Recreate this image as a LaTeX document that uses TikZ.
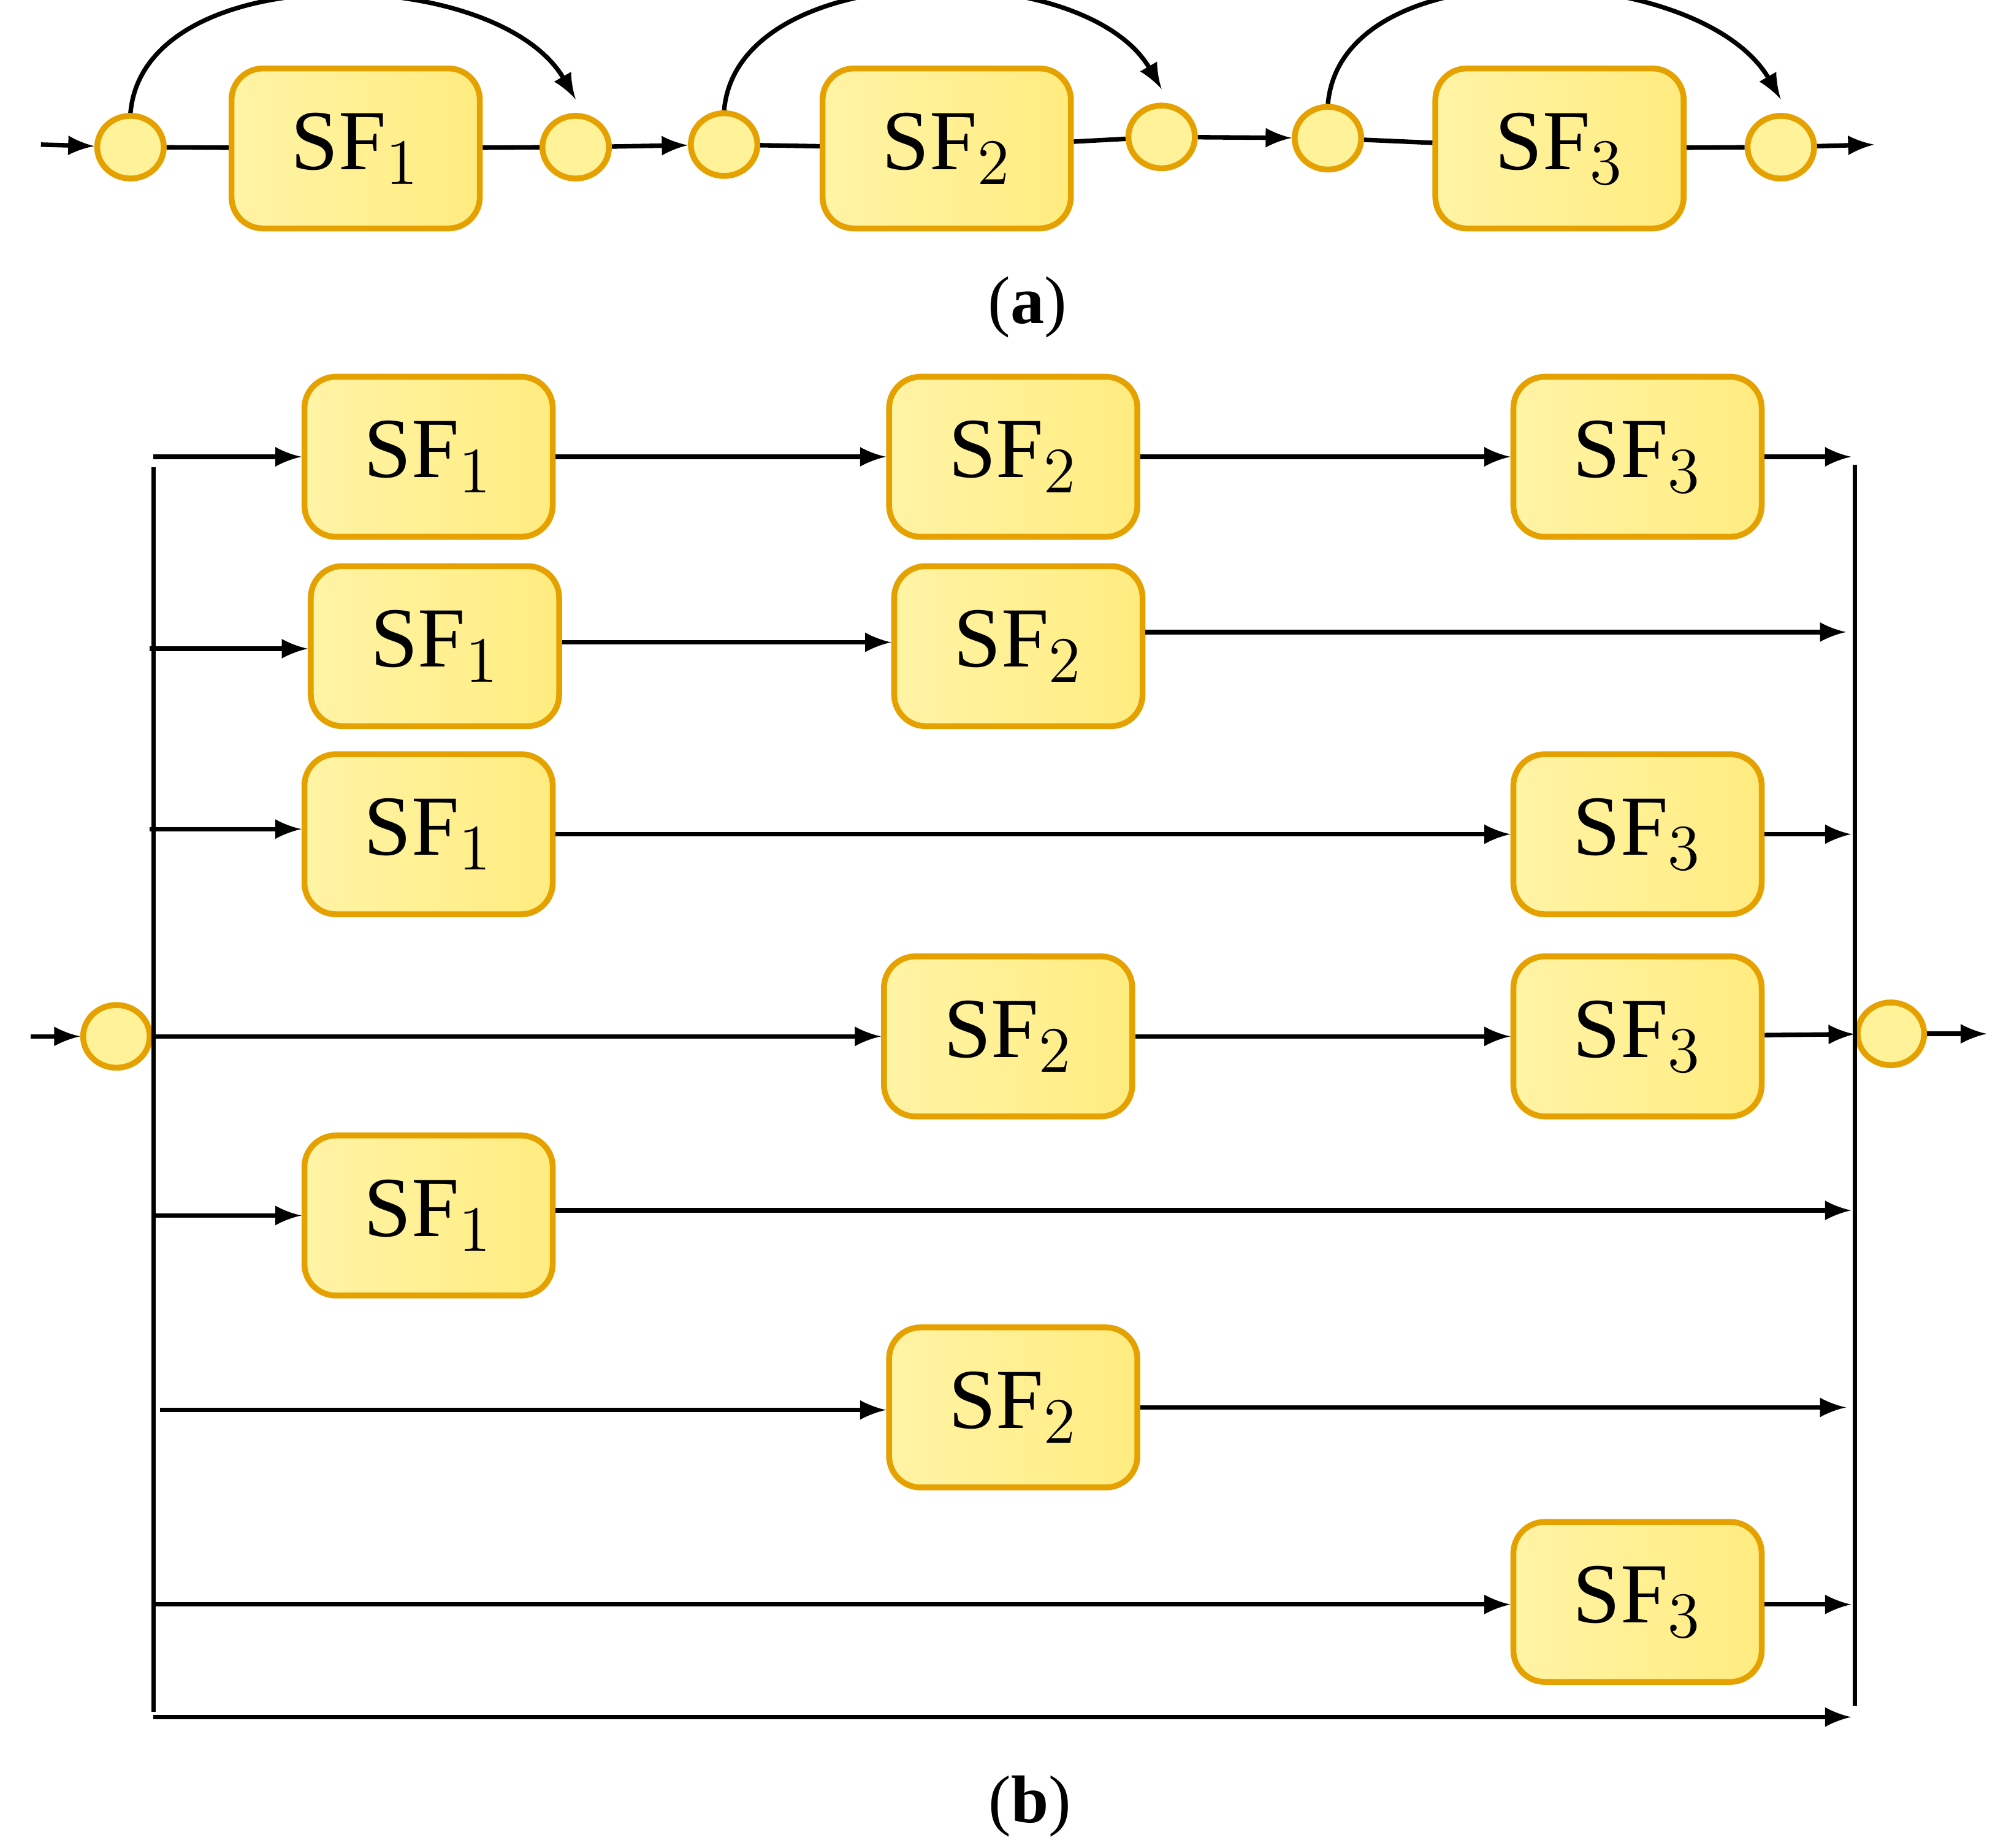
\documentclass[tikz,border=0pt]{standalone}
\usepackage{fontspec}
\setmainfont{Liberation Serif}
\usetikzlibrary{shapes.geometric}

\begin{document}
\begin{tikzpicture}[x=0.01cm,y=-0.01cm,line width=1pt,
  sf/.style={draw=orange!60!yellow!90!black,line width=1.3pt,rounded corners=7pt,
    left color=orange!25!yellow!35,right color=orange!30!yellow!50,
    minimum width=1.94cm,minimum height=1.25cm,font=\fontsize{19}{22}\selectfont},
  dot/.style={ellipse,draw=orange!60!yellow!90!black,line width=1.3pt,
    fill=orange!25!yellow!40,minimum width=0.52cm,minimum height=0.49cm,inner sep=0pt},
  flow/.style={-latex},
  sublabel/.style={font=\fontsize{15}{18}\selectfont}]
\useasboundingbox (0,0) rectangle (1568,1444);

% (a) series chain
\node[dot] (a1) at (102,115) {};
\node[sf] (asf1) at (278,116) {SF$_1$};
\node[dot] (a2) at (450,115) {};
\node[dot] (a3) at (566,113) {};
\node[sf] (asf2) at (740,116) {SF$_2$};
\node[dot] (a4) at (908,107) {};
\node[dot] (a5) at (1038,108) {};
\node[sf] (asf3) at (1219,116) {SF$_3$};
\node[dot] (a6) at (1392,115) {};
\coordinate (ain) at (32,113);
\coordinate (aout) at (1465,113);
\draw[flow] (ain) -- (a1);
\draw (a1) -- (asf1) (asf1) -- (a2);
\draw[flow] (a2) -- (a3);
\draw (a3) -- (asf2) (asf2) -- (a4);
\draw[flow] (a4) -- (a5);
\draw (a5) -- (asf3) (asf3) -- (a6);
\draw[flow] (a6) -- (aout);
\draw[flow] (a1.north) to[out=85,in=120,looseness=0.9] ([yshift=3pt]a2.north);
\draw[flow] (a3.north) to[out=85,in=120,looseness=0.9] ([yshift=3pt]a4.north);
\draw[flow] (a5.north) to[out=85,in=120,looseness=0.9] ([yshift=3pt]a6.north);
\node[sublabel] (capa) at (803,240) {(\textbf{a})};

% (b) parallel paths
\node[dot] (bin) at (91,810) {};
\node[dot] (bout) at (1478,808) {};
\coordinate (bsrc) at (24,810);
\coordinate (bdst) at (1553,808);
\draw[flow] (bsrc) -- (bin);
\draw[flow] (bout) -- (bdst);
\coordinate (lt) at (120,365);
\coordinate (lb) at (120,1338);
\coordinate (rt) at (1450,363);
\coordinate (rb) at (1450,1333);
\draw (lt) -- (lb);
\draw (rt) -- (rb);

% row 1
\node[sf] (p1a) at (335,357) {SF$_1$};
\node[sf] (p1b) at (792,357) {SF$_2$};
\node[sf] (p1c) at (1280,357) {SF$_3$};
\coordinate (l1) at (120,357);
\coordinate (r1) at (1447,357);
\draw[flow] (l1) -- (p1a);
\draw[flow] (p1a) -- (p1b);
\draw[flow] (p1b) -- (p1c);
\draw[flow] (p1c) -- (r1);
% row 2
\node[sf] (p2a) at (340,505) {SF$_1$};
\node[sf] (p2b) at (796,505) {SF$_2$};
\coordinate (l2) at (117,507);
\coordinate (r2) at (1443,494);
\draw[flow] (l2) -- (p2a.west|-l2);
\draw[flow] (p2a.east|-0,502) -- (p2b.west|-0,502);
\draw[flow] (p2b.east|-r2) -- (r2);
% row 3
\node[sf] (p3a) at (335,652) {SF$_1$};
\node[sf] (p3c) at (1280,652) {SF$_3$};
\coordinate (l3) at (117,648);
\coordinate (r3) at (1447,652);
\draw[flow] (l3) -- (p3a.west|-l3);
\draw[flow] (p3a) -- (p3c);
\draw[flow] (p3c) -- (r3);
% row 4
\node[sf] (p4b) at (788,810) {SF$_2$};
\node[sf] (p4c) at (1280,810) {SF$_3$};
\draw[flow] (bin) -- (p4b);
\draw[flow] (p4b) -- (p4c);
\draw[flow] (p4c) -- (bout);
% row 5
\node[sf] (p5a) at (335,950) {SF$_1$};
\coordinate (l5) at (120,950);
\coordinate (r5) at (1447,946);
\draw[flow] (l5) -- (p5a);
\draw[flow] (p5a.east|-r5) -- (r5);
% row 6
\node[sf] (p6b) at (792,1100) {SF$_2$};
\coordinate (l6) at (125,1102);
\coordinate (r6) at (1443,1100);
\draw[flow] (l6) -- (p6b.west|-l6);
\draw[flow] (p6b) -- (r6);
% row 7
\node[sf] (p7c) at (1280,1252) {SF$_3$};
\coordinate (l7) at (120,1254);
\coordinate (r7) at (1447,1254);
\draw[flow] (l7) -- (p7c.west|-l7);
\draw[flow] (p7c.east|-r7) -- (r7);
% row 8
\coordinate (l8) at (120,1342);
\coordinate (r8) at (1447,1342);
\draw[flow] (l8) -- (r8);
\node[sublabel] (capb) at (805,1412) {(\textbf{b})};
\end{tikzpicture}
\end{document}
